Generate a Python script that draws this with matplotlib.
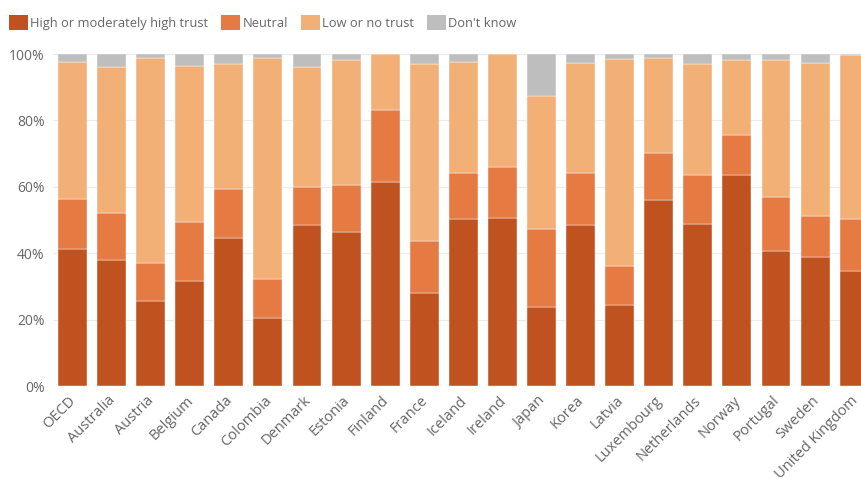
import matplotlib
matplotlib.use("Agg")
import matplotlib.pyplot as plt
import matplotlib.transforms as mtransforms
from matplotlib.patches import Patch
import numpy as np

countries = ["OECD", "Australia", "Austria", "Belgium", "Canada", "Colombia",
             "Denmark", "Estonia", "Finland", "France", "Iceland", "Ireland",
             "Japan", "Korea", "Latvia", "Luxembourg", "Netherlands", "Norway",
             "Portugal", "Sweden", "United Kingdom"]

high_trust = [41.2, 37.9, 25.6, 31.7, 44.6, 20.4, 48.6, 46.4, 61.4, 27.9, 50.3,
              50.6, 23.8, 48.6, 24.3, 56.0, 48.9, 63.6, 40.7, 39.0, 34.7]
neutral = [15.0, 14.2, 11.5, 17.7, 14.8, 11.7, 11.2, 14.0, 21.7, 15.9, 14.0,
           15.3, 23.5, 15.6, 11.7, 14.2, 14.6, 12.1, 16.2, 12.2, 15.5]
low_trust = [41.3, 43.9, 61.8, 47.0, 37.5, 66.8, 36.4, 37.8, 16.9, 53.2, 33.3,
             34.1, 40.0, 33.0, 62.5, 28.7, 33.4, 22.5, 41.3, 46.0, 49.6]
dont_know = [2.5, 4.0, 1.1, 3.6, 3.1, 1.1, 3.8, 1.8, 0.0, 3.0, 2.4,
             0.0, 12.7, 2.8, 1.5, 1.1, 3.1, 1.8, 1.8, 2.8, 0.2]

series = [
    ("High or moderately high trust", high_trust, "#C0521F"),
    ("Neutral", neutral, "#E57A42"),
    ("Low or no trust", low_trust, "#F2B077"),
    ("Don't know", dont_know, "#BEBEBE"),
]

plt.rcParams["font.family"] = ["Open Sans", "DejaVu Sans"]
text_color = "#666666"

fig = plt.figure(figsize=(8.61, 4.79), dpi=100)
ax = fig.add_axes([53 / 861, 93 / 479, 820.7 / 861, 332 / 479])

x = np.arange(len(countries))
bottom = np.zeros(len(countries))
for name, vals, color in series:
    vals = np.array(vals)
    ax.bar(x, vals, bottom=bottom, width=0.74, color=color,
           edgecolor="white", linewidth=0.3, label=name, zorder=3)
    bottom += vals

ax.set_xlim(-0.5, len(countries) - 0.5)
ax.set_ylim(0, 100)
ax.set_yticks([0, 20, 40, 60, 80, 100])
ax.set_yticklabels([f"{v}%" for v in [0, 20, 40, 60, 80, 100]])
ax.yaxis.grid(True, color="#EBEBEB", linewidth=0.8, zorder=0)
ax.set_axisbelow(True)
ax.set_xticks(x)
ax.set_xticklabels([])
ax.tick_params(axis="both", length=0, labelsize=10, colors=text_color)
ax.tick_params(axis="y", pad=6)

# slanted category labels, anchored by their upper-right corner under each bar
label_tf = ax.get_xaxis_transform() + mtransforms.ScaledTranslation(
    -4 / 100, -7 / 100, fig.dpi_scale_trans)
for xi, name in zip(x, countries):
    ax.text(xi, 0, name, transform=label_tf, rotation=45,
            rotation_mode="anchor", ha="right", va="top",
            fontsize=10.5, color=text_color, clip_on=False)

for s in ax.spines.values():
    s.set_visible(False)

handles = [Patch(facecolor=c, edgecolor="none", label=n) for n, _, c in series]
fig.legend(handles=handles, loc="upper left", bbox_to_anchor=(-0.004, 0.995),
           ncol=4, frameon=False, fontsize=9.3, labelcolor=text_color,
           handlelength=1.45, handleheight=1.45, handletextpad=0.2,
           columnspacing=1.0, borderaxespad=0.55)

fig.savefig("out.png", dpi=100)
